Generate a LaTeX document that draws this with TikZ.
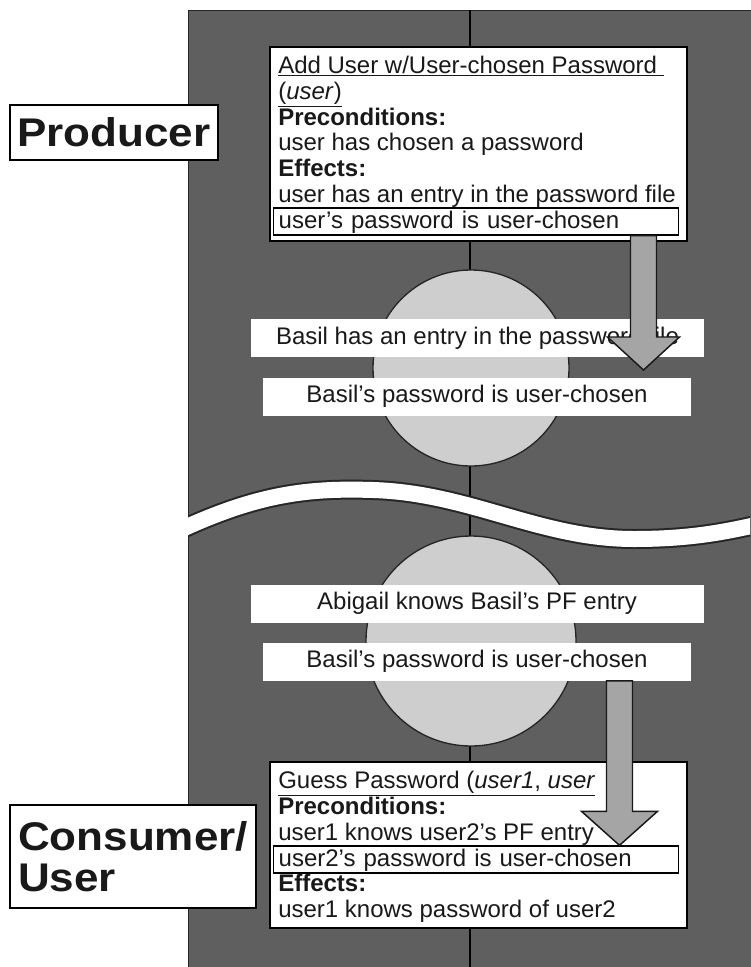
\documentclass[tikz,border=0pt]{standalone}
\usepackage{fontspec}
\setmainfont{Liberation Sans}
\newfontfamily\labelfont[FakeStretch=1.1]{Liberation Sans}
\usepackage{tikz}
\usetikzlibrary{calc}
\usepackage{xcolor}
\definecolor{panelgray}{RGB}{95,95,95}
\definecolor{discgray}{RGB}{206,206,206}
\definecolor{arrowgray}{RGB}{165,165,165}
\definecolor{inkcol}{RGB}{25,25,25}

\begin{document}
\begin{tikzpicture}[x=0.75pt, y=-0.75pt,
    txt/.style={font=\fontsize{18}{19}\selectfont, text=inkcol},
    oline/.style={txt, anchor=base west, inner sep=0pt},
    opbox/.style={draw=black, line width=1pt, fill=white, rectangle, inner sep=0pt},
    hlbox/.style={txt, draw=black, line width=1pt, fill=white, anchor=base west, inner xsep=3.75pt, inner ysep=0pt, text height=15pt, text depth=5.25pt, text width=296pt, align=left},
    factbox/.style={txt, fill=white, rectangle, minimum height=28.5pt, inner sep=0pt},
    rolebox/.style={draw=black, line width=1pt, fill=white, font=\labelfont\bfseries\fontsize{30}{31}\selectfont, text=inkcol},
    disc/.style={circle, draw=black!85, line width=1pt, fill=discgray, inner sep=0pt},
    fatarr/.style={draw=black!90, line width=1.1pt, fill=arrowgray, line join=miter}]
        \useasboundingbox (0,0) rectangle (750,967);
        % shaded panel with its middle line
        \fill[panelgray, draw=black!85] (188,10) rectangle (751,968);
        \draw[black, line width=1.2pt] (470,10) -- (470,967);

        \node[disc, minimum size=147pt] (updisc) at (471,368) {};
        \node[disc, minimum size=157.5pt] (lowdisc) at (471,641) {};

        % break between producer and consumer
        \begin{scope}
            \clip (188,10) rectangle (750,967);
            \draw[black!85, line width=1.5pt, double=white, double distance=12pt] (180,530) .. controls (260,493) and (310,488) .. (373,490) .. controls (470,493) and (540,539) .. (634,539) .. controls (690,539) and (725,532) .. (760,524);
        \end{scope}

        % producer operator
        \node[opbox, minimum width=312.75pt, minimum height=145.5pt] (addbox) at (478.5,144) {};
        \node[oline] (add1) at (278,73) {\underline{Add User w/User-chosen Password\ }};
        \node[oline] (add2) at (278,99) {\underline{(\textit{user})}};
        \node[oline] (add3) at (278,125) {\textbf{Preconditions:}};
        \node[oline] (add4) at (278,150) {user has chosen a password};
        \node[oline] (add5) at (278,176) {\textbf{Effects:}};
        \node[oline] (add6) at (278,202) {user has an entry in the password file};
        \node[hlbox] (addeff) at (273,228) {user's password is user-chosen};

        % facts in the world
        \node[factbox, minimum width=339.75pt] (basilentry) at (477.5,338) {Basil has an entry in the password file};
        \node[factbox, minimum width=321pt] (basilchosen) at (477,396.5) {Basil's password is user-chosen};
        \node[factbox, minimum width=339.75pt] (abigailpf) at (477,603.5) {Abigail knows Basil's PF entry};
        \node[factbox, minimum width=321pt] (basilchosen2) at (477,661.5) {Basil's password is user-chosen};

        % consumer operator
        \node[opbox, minimum width=312.75pt, minimum height=124.5pt] (guessbox) at (478.5,845) {};
        \node[oline] (guess1) at (278,788) {\underline{Guess Password (\textit{user1}, \textit{user}}};
        \node[oline] (guess2) at (278,814) {\textbf{Preconditions:}};
        \node[oline] (guess3) at (278,840) {user1 knows user2's PF entry};
        \node[hlbox] (guesspre) at (273,866) {user2's password is user-chosen};
        \node[oline] (guess5) at (278,891) {\textbf{Effects:}};
        \node[oline] (guess6) at (278,917) {user1 knows password of user2};

        \node[rolebox, minimum width=156pt, minimum height=41.25pt] (producer) at (114,132.5) {Producer};
        \node[rolebox, minimum width=184.5pt, minimum height=77.25pt, align=left] (consumer) at (133,856.5) {Consumer/\\User};

        % fat arrows
        \coordinate (a1tip) at (643.5,370);
        \coordinate (a1from) at (addeff.south -| a1tip);
        \draw[fatarr] ($(a1from)+(-13,0)$) -- ($(a1tip)+(-13,-33)$) -- ($(a1tip)+(-36,-33)$) -- (a1tip) -- ($(a1tip)+(36,-33)$) -- ($(a1tip)+(13,-33)$) -- ($(a1from)+(13,0)$) -- cycle;

        \coordinate (a2x) at (619.5,0);
        \coordinate (a2tip) at (guesspre.north -| a2x);
        \coordinate (a2from) at (basilchosen2.south -| a2x);
        \draw[fatarr] ($(a2from)+(-13,0)$) -- ($(a2tip)+(-13,-34)$) -- ($(a2tip)+(-38,-34)$) -- (a2tip) -- ($(a2tip)+(38,-34)$) -- ($(a2tip)+(13,-34)$) -- ($(a2from)+(13,0)$) -- cycle;
    \end{tikzpicture}
\end{document}
